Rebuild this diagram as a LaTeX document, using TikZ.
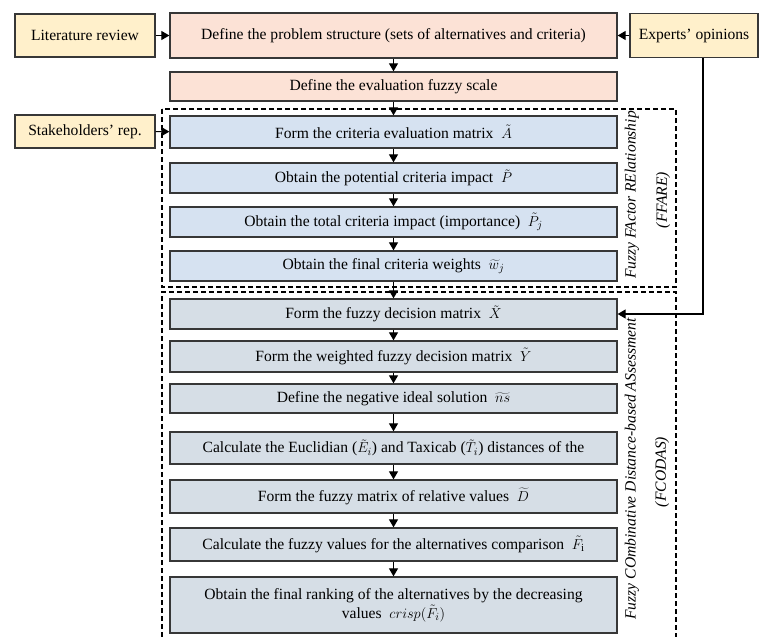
\documentclass[tikz,border=0pt]{standalone}
\usepackage{fontspec}
\setmainfont{Liberation Serif}
\usetikzlibrary{arrows.meta}
\definecolor{pinkfill}{RGB}{252,226,214}
\definecolor{bluefill}{RGB}{214,226,241}
\definecolor{grayfill}{RGB}{214,222,230}
\definecolor{srcfill}{RGB}{255,240,203}
\definecolor{edgegray}{RGB}{55,55,55}
\tikzset{
stepbox/.style={draw=edgegray, line width=1.3pt, minimum width=447pt, inner sep=1pt,
  align=center, font=\fontsize{15.6}{19}\selectfont},
pinkbox/.style={stepbox, fill=pinkfill},
bluebox/.style={stepbox, fill=bluefill},
graybox/.style={stepbox, fill=grayfill},
srcbox/.style={draw=edgegray, line width=1.3pt, fill=srcfill, inner sep=1pt,
  font=\fontsize{15.6}{19}\selectfont},
flow/.style={-{Triangle[width=9pt,length=8pt]}, line width=1.2pt},
group/.style={dash pattern=on 5pt off 3pt, line width=1.2pt},
grouplabel/.style={rotate=90, font=\fontsize{15.6}{19}\selectfont\itshape}
}
\begin{document}
\begin{tikzpicture}[x=1pt, y=-1pt]
\useasboundingbox (0,0) rectangle (761,637);
% sources
\node[srcbox, minimum width=140pt, minimum height=43pt] (lit) at (85,35.5) {Literature review};
\node[srcbox, minimum width=128pt, minimum height=44pt] (exp) at (694,35.5) {Experts' opinions};
\node[srcbox, minimum width=140pt, minimum height=33pt] (stake) at (85,131.5) {Stakeholders' rep.};
% problem definition
\node[pinkbox, minimum height=45pt] (struct) at (393.5,35.5) {Define the problem structure (sets of alternatives and criteria)};
\node[pinkbox, minimum height=29pt] (scale) at (393.5,86.5) {Define the evaluation fuzzy scale};
% FFARE
\node[bluebox, minimum height=32pt] (fa1) at (393.5,132) {Form the criteria evaluation matrix\ \ $\tilde{A}$};
\node[bluebox, minimum height=30pt] (fa2) at (393.5,178) {Obtain the potential criteria impact\ \ $\tilde{P}$};
\node[bluebox, minimum height=30pt] (fa3) at (393.5,222) {Obtain the total criteria impact (importance)\ \ $\tilde{P}_j$};
\node[bluebox, minimum height=30pt] (fa4) at (393.5,266) {Obtain the final criteria weights\ \ $\widetilde{w}_j$};
% FCODAS
\node[graybox, minimum height=30pt] (fc1) at (393.5,314) {Form the fuzzy decision matrix\ \ $\tilde{X}$};
\node[graybox, minimum height=31pt] (fc2) at (393.5,356.5) {Form the weighted fuzzy decision matrix\ \ $\tilde{Y}$};
\node[graybox, minimum height=29pt] (fc3) at (393.5,398.5) {Define the negative ideal solution\ \ $\widetilde{ns}$};
\node[graybox, minimum height=32pt] (fc4) at (393.5,448) {Calculate the Euclidian ($\tilde{E}_i$) and Taxicab ($\tilde{T}_i$) distances of the};
\node[graybox, minimum height=33pt] (fc5) at (393.5,496.5) {Form the fuzzy matrix of relative values\ \ $\widetilde{D}$};
\node[graybox, minimum height=33pt] (fc6) at (393.5,544.5) {Calculate the fuzzy values for the alternatives comparison\ \ $\tilde{F}_{\mathrm{i}}$};
\node[graybox, minimum height=56pt] (fc7) at (393.5,605) {Obtain the final ranking of the alternatives by the decreasing\\values\ \ $crisp(\tilde{F}_i)$};
% groups
\draw[group] (162,109) rectangle (676,287);
\draw[group] (162,637) -- (162,292) -- (676,292) -- (676,637);
\node[grouplabel] (ffare) at (632,195) {Fuzzy FActor RElationship};
\node[grouplabel] (ffareabbr) at (663,200) {(FFARE)};
\node[grouplabel] (fcodas) at (632,469) {Fuzzy COmbinative Distance-based ASsessment};
\node[grouplabel] (fcodasabbr) at (662,472) {(FCODAS)};
% arrows
\draw[flow] (lit) -- (struct);
\draw[flow] (exp) -- (struct);
\draw[flow] (stake) -- (fa1);
\draw[flow] (struct) -- (scale);
\draw[flow] (scale) -- (fa1);
\draw[flow] (fa1) -- (fa2);
\draw[flow] (fa2) -- (fa3);
\draw[flow] (fa3) -- (fa4);
\draw[flow] (fa4) -- (fc1);
\draw[flow] (fc1) -- (fc2);
\draw[flow] (fc2) -- (fc3);
\draw[flow] (fc3) -- (fc4);
\draw[flow] (fc4) -- (fc5);
\draw[flow] (fc5) -- (fc6);
\draw[flow] (fc6) -- (fc7);
\draw[flow] ([xshift=9pt]exp.south) |- (fc1.east);
\end{tikzpicture}
\end{document}
